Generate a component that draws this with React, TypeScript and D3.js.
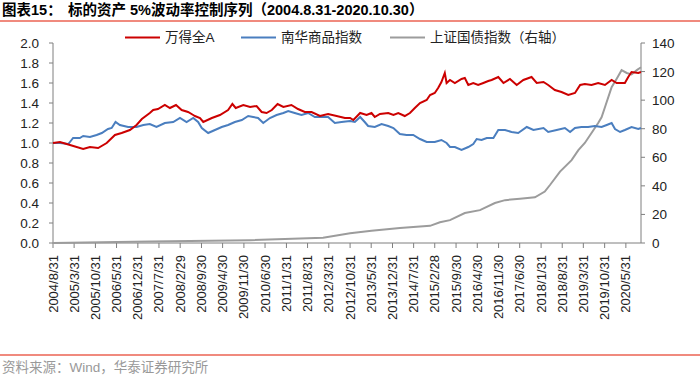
import React from "react";
import * as d3 from "d3";

const TITLE_A = "图表15：";
const TITLE_B = "标的资产 5%波动率控制序列（2004.8.31-2020.10.30）";
const SOURCE = "资料来源：Wind，华泰证券研究所";
const SERIES_NAMES = ["万得全A", "南华商品指数", "上证国债指数（右轴）"];

const xTickLabels = [
  "2004/8/31", "2005/3/31", "2005/10/31", "2006/5/31", "2006/12/31", "2007/7/31",
  "2008/2/29", "2008/9/30", "2009/4/30", "2009/11/30", "2010/6/30", "2011/1/31",
  "2011/8/31", "2012/3/31", "2012/10/31", "2013/5/31", "2013/12/31", "2014/7/31",
  "2015/2/28", "2015/9/30", "2016/4/30", "2016/11/30", "2017/6/30", "2018/1/31",
  "2018/8/31", "2019/3/31", "2019/10/31", "2020/5/31",
];
const leftTicks = [0, 0.2, 0.4, 0.6, 0.8, 1.0, 1.2, 1.4, 1.6, 1.8, 2.0];
const rightTicks = [0, 20, 40, 60, 80, 100, 120, 140];

const windA: [string, number][] = [
  ["2004-08-31", 1.0], ["2004-11-09", 1.01], ["2005-02-18", 0.98], ["2005-06-30", 0.94],
  ["2005-09-06", 0.96], ["2005-11-27", 0.95], ["2006-02-21", 1.0], ["2006-05-15", 1.08],
  ["2006-07-21", 1.1], ["2006-10-12", 1.13], ["2006-12-18", 1.18], ["2007-02-09", 1.24],
  ["2007-04-30", 1.3], ["2007-06-03", 1.33], ["2007-07-21", 1.34], ["2007-09-28", 1.38],
  ["2007-11-18", 1.35], ["2008-01-18", 1.38], ["2008-03-15", 1.33], ["2008-05-18", 1.31],
  ["2008-07-09", 1.28], ["2008-07-26", 1.27], ["2008-09-15", 1.25], ["2008-10-18", 1.21],
  ["2009-01-12", 1.25], ["2009-04-03", 1.28], ["2009-06-24", 1.33], ["2009-08-06", 1.39],
  ["2009-09-09", 1.35], ["2009-11-24", 1.38], ["2010-01-31", 1.36], ["2010-04-06", 1.37],
  ["2010-05-27", 1.31], ["2010-07-15", 1.3], ["2010-09-06", 1.33], ["2010-11-03", 1.39],
  ["2010-12-31", 1.36], ["2011-03-22", 1.38], ["2011-05-27", 1.34], ["2011-08-03", 1.31],
  ["2011-10-10", 1.31], ["2012-01-03", 1.27], ["2012-03-24", 1.29], ["2012-06-18", 1.27],
  ["2012-09-09", 1.25], ["2012-10-31", 1.25], ["2012-12-03", 1.23], ["2013-02-09", 1.3],
  ["2013-04-15", 1.28], ["2013-06-03", 1.3], ["2013-07-06", 1.26], ["2013-08-27", 1.29],
  ["2013-11-18", 1.3], ["2014-01-09", 1.28], ["2014-02-27", 1.3], ["2014-05-03", 1.27],
  ["2014-06-24", 1.3], ["2014-08-12", 1.35], ["2014-10-03", 1.4], ["2014-12-09", 1.43],
  ["2015-01-12", 1.48], ["2015-02-28", 1.5], ["2015-04-03", 1.55], ["2015-05-06", 1.61],
  ["2015-06-09", 1.7], ["2015-06-27", 1.6], ["2015-07-31", 1.63], ["2015-09-18", 1.6],
  ["2015-11-24", 1.64], ["2015-12-27", 1.65], ["2016-01-31", 1.58], ["2016-03-21", 1.6],
  ["2016-05-09", 1.58], ["2016-06-30", 1.6], ["2016-08-18", 1.62], ["2016-09-21", 1.63],
  ["2016-11-27", 1.66], ["2017-01-18", 1.6], ["2017-03-24", 1.64], ["2017-05-31", 1.58],
  ["2017-08-06", 1.63], ["2017-10-27", 1.66], ["2017-12-18", 1.6], ["2018-02-24", 1.61],
  ["2018-04-12", 1.58], ["2018-06-18", 1.53], ["2018-08-24", 1.51], ["2018-10-31", 1.48],
  ["2019-01-06", 1.5], ["2019-02-27", 1.58], ["2019-04-15", 1.59], ["2019-06-21", 1.58],
  ["2019-08-27", 1.6], ["2019-11-03", 1.58], ["2020-01-09", 1.63], ["2020-02-29", 1.6],
  ["2020-05-21", 1.6], ["2020-06-24", 1.66], ["2020-07-27", 1.71], ["2020-10-03", 1.7],
  ["2020-10-30", 1.71],
];

const nanhua: [string, number][] = [
  ["2004-08-31", 1.0], ["2004-11-09", 1.0], ["2005-02-01", 0.99], ["2005-03-21", 1.05],
  ["2005-05-27", 1.05], ["2005-06-30", 1.07], ["2005-09-06", 1.06], ["2005-11-12", 1.08],
  ["2006-01-03", 1.1], ["2006-03-06", 1.14], ["2006-04-12", 1.15], ["2006-05-21", 1.21],
  ["2006-07-03", 1.18], ["2006-09-24", 1.16], ["2006-12-18", 1.16], ["2007-02-24", 1.18],
  ["2007-04-30", 1.19], ["2007-07-06", 1.16], ["2007-09-28", 1.2], ["2007-12-21", 1.21],
  ["2008-02-27", 1.25], ["2008-05-03", 1.21], ["2008-07-09", 1.25], ["2008-08-27", 1.21],
  ["2008-10-03", 1.15], ["2008-12-06", 1.1], ["2009-02-12", 1.13], ["2009-04-21", 1.16],
  ["2009-06-24", 1.18], ["2009-08-31", 1.21], ["2009-11-09", 1.23], ["2010-01-12", 1.27],
  ["2010-03-03", 1.26], ["2010-04-21", 1.25], ["2010-06-12", 1.2], ["2010-08-18", 1.25],
  ["2010-10-24", 1.28], ["2010-12-31", 1.3], ["2011-02-18", 1.32], ["2011-04-24", 1.3],
  ["2011-07-01", 1.28], ["2011-09-06", 1.3], ["2011-11-12", 1.26], ["2012-01-19", 1.26],
  ["2012-03-24", 1.26], ["2012-05-31", 1.2], ["2012-08-06", 1.21], ["2012-10-31", 1.22],
  ["2012-12-18", 1.21], ["2013-02-09", 1.26], ["2013-03-27", 1.21], ["2013-04-30", 1.17],
  ["2013-07-06", 1.16], ["2013-09-12", 1.19], ["2013-11-18", 1.17], ["2014-01-09", 1.15],
  ["2014-03-15", 1.09], ["2014-05-21", 1.08], ["2014-07-27", 1.08], ["2014-10-03", 1.04],
  ["2014-12-09", 1.01], ["2015-02-28", 1.01], ["2015-05-06", 1.03], ["2015-06-27", 1.0],
  ["2015-07-31", 0.96], ["2015-09-18", 0.96], ["2015-11-24", 0.93], ["2016-01-31", 0.96],
  ["2016-03-21", 0.99], ["2016-04-24", 1.04], ["2016-06-12", 1.03], ["2016-08-03", 1.05],
  ["2016-10-09", 1.05], ["2016-11-27", 1.13], ["2017-02-03", 1.13], ["2017-04-09", 1.11],
  ["2017-06-15", 1.1], ["2017-09-09", 1.16], ["2017-11-15", 1.13], ["2018-02-24", 1.15],
  ["2018-04-12", 1.11], ["2018-07-06", 1.13], ["2018-09-27", 1.15], ["2018-11-18", 1.11],
  ["2019-01-06", 1.15], ["2019-03-12", 1.16], ["2019-05-18", 1.16], ["2019-07-24", 1.17],
  ["2019-09-30", 1.16], ["2019-11-21", 1.18], ["2020-01-09", 1.2], ["2020-02-12", 1.14],
  ["2020-04-03", 1.11], ["2020-05-21", 1.13], ["2020-07-27", 1.16], ["2020-10-03", 1.14],
  ["2020-10-30", 1.15],
];

const bond: [string, number][] = [
  ["2004-08-31", 0], ["2007-04-30", 1], ["2010-01-31", 2], ["2012-02-03", 3.7],
  ["2012-10-31", 6.8], ["2013-06-03", 8.5], ["2014-03-15", 10.5], ["2015-01-12", 12],
  ["2015-04-21", 14.5], ["2015-07-31", 16], ["2015-12-27", 21], ["2016-05-27", 23],
  ["2016-10-24", 28], ["2017-02-03", 30], ["2017-07-03", 31], ["2017-11-30", 32],
  ["2018-03-09", 36], ["2018-04-30", 40.6], ["2018-08-09", 50], ["2018-12-03", 58],
  ["2019-02-09", 65], ["2019-04-15", 70], ["2019-06-21", 77], ["2019-08-27", 84],
  ["2019-09-30", 88], ["2019-11-03", 95], ["2020-01-09", 109], ["2020-02-29", 115],
  ["2020-04-18", 121], ["2020-06-09", 119], ["2020-07-27", 118], ["2020-09-18", 121],
  ["2020-10-30", 123],
];

const COLORS = ["#cc0000", "#4a7ebf", "#9c9c9c"];

export default function App() {
  const W = 700, H = 379;
  const parse = d3.timeParse("%Y-%m-%d");
  const parseTick = d3.timeParse("%Y/%m/%d");
  const x = d3.scaleTime()
    .domain([parse("2004-08-31") as Date, parse("2020-10-30") as Date])
    .range([53, 641]);
  const yL = d3.scaleLinear().domain([0, 2]).range([243, 43]);
  const yR = d3.scaleLinear().domain([0, 140]).range([243, 43]);

  const lineL = d3.line<[string, number]>()
    .x(d => x(parse(d[0]) as Date))
    .y(d => yL(d[1]));
  const lineR = d3.line<[string, number]>()
    .x(d => x(parse(d[0]) as Date))
    .y(d => yR(d[1]));

  const font = "'Liberation Sans', Arial, 'Noto Sans CJK SC', sans-serif";
  const cjk = "'Liberation Sans', 'Noto Sans CJK SC', sans-serif";
  const axisColor = "#7f7f7f";
  const legendItems = [
    { x1: 125, tx: 165 },
    { x1: 241, tx: 281 },
    { x1: 390, tx: 430 },
  ];

  return (
    <svg width={W} height={H} style={{ position: "absolute", left: 0, top: 0, background: "#fff" }}>
      <rect width={W} height={H} fill="#fff" />
      <text x={2} y={15} fontSize={14.5} fontWeight="bold" fontFamily={cjk} fill="#000">{TITLE_A}</text>
      <text x={68} y={15} fontSize={14.5} fontWeight="bold" fontFamily={cjk} fill="#000">{TITLE_B}</text>
      <line x1={0} x2={700} y1={21} y2={21} stroke="#f08a7e" strokeWidth={2} />

      {legendItems.map((l, i) => (
        <g key={i}>
          <line x1={l.x1} x2={l.x1 + 35} y1={37.5} y2={37.5} stroke={COLORS[i]} strokeWidth={2} />
          <text x={l.tx} y={42} fontSize={13.5} fontFamily={cjk} fill="#222">{SERIES_NAMES[i]}</text>
        </g>
      ))}

      {/* left axis */}
      <line x1={53} x2={53} y1={43} y2={243} stroke={axisColor} />
      {leftTicks.map(t => (
        <g key={t}>
          <line x1={49} x2={53} y1={yL(t)} y2={yL(t)} stroke={axisColor} />
          <text x={39} y={yL(t) + 5} textAnchor="end" fontSize={13.5} fontFamily={font} fill="#222">{t.toFixed(1)}</text>
        </g>
      ))}
      {/* right axis */}
      <line x1={641} x2={641} y1={43} y2={243} stroke={axisColor} />
      {rightTicks.map(t => (
        <g key={t}>
          <line x1={641} x2={645} y1={yR(t)} y2={yR(t)} stroke={axisColor} />
          <text x={652} y={yR(t) + 5} textAnchor="start" fontSize={13.5} fontFamily={font} fill="#222">{t}</text>
        </g>
      ))}
      {/* x axis */}
      <line x1={53} x2={641} y1={243} y2={243} stroke={axisColor} />
      {xTickLabels.map(lbl => {
        const xx = x(parseTick(lbl) as Date);
        return (
          <g key={lbl}>
            <line x1={xx} x2={xx} y1={243} y2={248} stroke={axisColor} />
            <text transform={`translate(${xx + 4.5},255) rotate(-90)`} textAnchor="end" fontSize={13} fontFamily={font} fill="#222">{lbl}</text>
          </g>
        );
      })}

      <path d={lineR(bond) || ""} fill="none" stroke={COLORS[2]} strokeWidth={2} />
      <path d={lineL(nanhua) || ""} fill="none" stroke={COLORS[1]} strokeWidth={2} />
      <path d={lineL(windA) || ""} fill="none" stroke={COLORS[0]} strokeWidth={2} />

      <line x1={0} x2={700} y1={355} y2={355} stroke="#f08a7e" strokeWidth={2} />
      <text x={2} y={372} fontSize={13.5} fontFamily={cjk} fill="#999">{SOURCE}</text>
    </svg>
  );
}
